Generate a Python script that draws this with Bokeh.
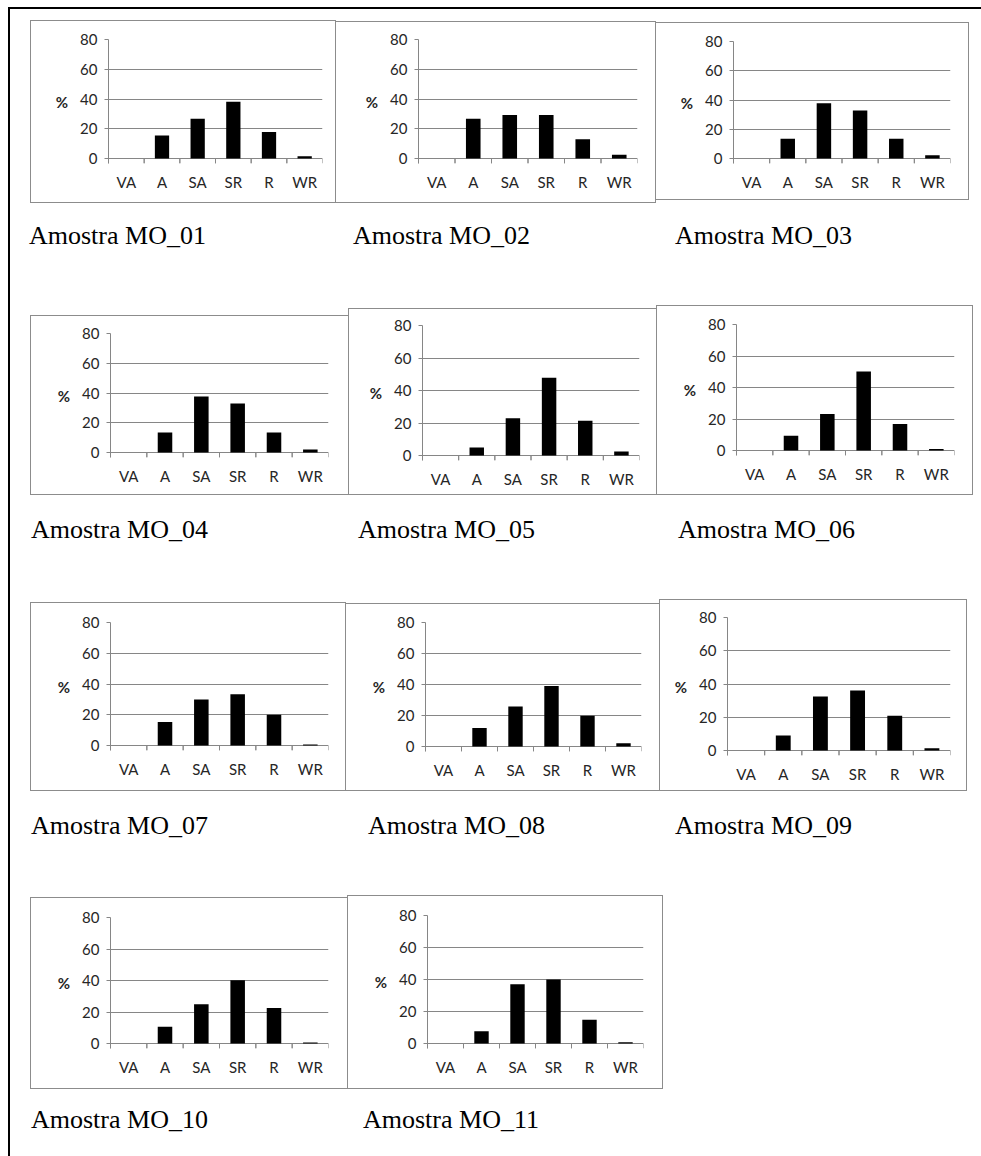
from bokeh.plotting import figure
from bokeh.models import (ColumnDataSource, Range1d, FactorRange,
                          CategoricalAxis, FixedTicker, Spacer, Div)
from bokeh.transform import dodge
from bokeh.layouts import row, column
from bokeh.embed import file_html
from bokeh.resources import INLINE

# ---------------- data ----------------
categories = ["VA", "A", "SA", "SR", "R", "WR"]
y_ticks = [0, 20, 40, 60, 80]
y_label = "%"
sample_names = ["Amostra MO_01", "Amostra MO_02", "Amostra MO_03", "Amostra MO_04",
                "Amostra MO_05", "Amostra MO_06", "Amostra MO_07", "Amostra MO_08",
                "Amostra MO_09", "Amostra MO_10", "Amostra MO_11"]
mo_01 = [0, 15.5, 26.7, 38.2, 17.8, 1.5]
mo_02 = [0, 26.7, 29.3, 29.3, 12.9, 2.5]
mo_03 = [0, 13.5, 37.8, 32.8, 13.5, 2.3]
mo_04 = [0, 13.4, 37.7, 33.0, 13.4, 2.0]
mo_05 = [0, 4.9, 23.0, 47.8, 21.4, 2.5]
mo_06 = [0, 9.4, 23.2, 50.2, 16.8, 1.0]
mo_07 = [0, 15.3, 29.9, 33.3, 20.0, 0.7]
mo_08 = [0, 12.0, 25.8, 39.1, 19.8, 2.1]
mo_09 = [0, 9.0, 32.5, 36.1, 20.9, 1.4]
mo_10 = [0, 10.7, 25.0, 40.2, 22.5, 0.6]
mo_11 = [0, 7.7, 37.1, 40.0, 14.8, 0.8]
series = [mo_01, mo_02, mo_03, mo_04, mo_05, mo_06, mo_07, mo_08, mo_09, mo_10, mo_11]

# ---------------- layout (page pixels) ----------------
# panel box [left, right) x [top, bottom) and plot frame (left, top(80), right, bottom(0))
panel_geom = [
    [(30, 20, 336, 203), (108, 39, 322, 158)],
    [(336, 21, 656, 203), (418, 39, 637, 158)],
    [(656, 22, 969, 200), (733, 41, 950, 158)],
    [(30, 315, 348, 495), (110, 333, 328, 452)],
    [(348, 308, 656, 495), (422, 325, 639, 455)],
    [(656, 305, 973, 495), (736, 324, 954, 450)],
    [(30, 602, 346, 791), (110, 622, 328, 745)],
    [(346, 603, 659, 791), (425, 622, 641, 746)],
    [(659, 599, 967, 791), (727, 617, 950, 750)],
    [(30, 897, 347, 1089), (110, 917, 328, 1043)],
    [(347, 895, 663, 1089), (427, 915, 643, 1043)],
]
rows_idx = [[0, 1, 2], [3, 4, 5], [6, 7, 8], [9, 10]]
caption_x = [[29, 353, 675], [31, 358, 678], [31, 368, 675], [31, 363]]
caption_cy = [236, 530, 826, 1120]

ORIGIN_X, ORIGIN_Y = 10, 9
GRID = "#868686"
BORDER = "#8c8c8c"
TXT = "#262626"
FONT = "Lato"
TICK_PX = 5


def make_panel(vals, geom):
    (bl, bt, br, bb), (fl, ft, fr, fb) = geom
    top_val = max(y_ticks)
    pad = top_val * TICK_PX / (fb - ft)        # room below 0 for the category tick marks
    src = ColumnDataSource(dict(cat=categories, val=vals))
    p = figure(x_range=FactorRange(*categories), y_range=Range1d(-pad, top_val),
               frame_width=fr - fl, frame_height=fb - ft + TICK_PX,
               min_border_left=fl - (bl + 1), min_border_right=(br - 1) - fr,
               min_border_top=ft - (bt + 1), min_border_bottom=(bb - 1) - fb - TICK_PX,
               x_axis_location=None, toolbar_location=None, output_backend="svg",
               background_fill_color="white", border_fill_color="white")
    p.outline_line_color = None
    p.xgrid.grid_line_color = None
    p.ygrid.grid_line_color = GRID
    p.ygrid.ticker = FixedTicker(ticks=y_ticks)

    ya = p.yaxis[0]
    ya.ticker = FixedTicker(ticks=y_ticks)
    ya.axis_line_color = GRID
    ya.major_tick_line_color = GRID
    ya.major_tick_out = 4
    ya.major_tick_in = 0
    ya.minor_tick_line_color = None
    ya.major_label_standoff = 7
    ya.major_label_text_font = FONT
    ya.major_label_text_font_size = "15px"
    ya.major_label_text_color = TXT
    ya.axis_label = y_label
    ya.axis_label_orientation = "horizontal"
    ya.axis_label_standoff = 9
    ya.axis_label_text_font = FONT
    ya.axis_label_text_font_size = "15px"
    ya.axis_label_text_font_style = "bold"
    ya.axis_label_text_color = TXT

    cat_axis = CategoricalAxis(axis_line_color=None, major_tick_line_color=None,
                               major_tick_out=0, major_tick_in=0,
                               major_label_standoff=9,
                               major_label_text_font=FONT,
                               major_label_text_font_size="15px",
                               major_label_text_color=TXT)
    p.add_layout(cat_axis, "below")

    # tick marks on the category boundaries, hanging below the zero line
    for side in (-0.5, 0.5):
        xb = dodge("cat", side, range=p.x_range)
        p.segment(x0=xb, x1=xb, y0=0, y1=-pad, source=src,
                  line_color=GRID, line_width=1)

    p.vbar(x="cat", top="val", width=0.4, source=src,
           fill_color="black", line_color=None)
    return p


def line_spacer(w, h, visible=True):
    if visible:
        return Spacer(width=w, height=h, styles={"background-color": BORDER})
    return Spacer(width=w, height=h)


def framed(fig, geom, show_left, show_right):
    bl, bt, br, bb = geom[0]
    w, h = br - bl, bb - bt
    mid = row([line_spacer(1, h - 2, show_left), fig, line_spacer(1, h - 2, show_right)],
              spacing=0)
    return column([line_spacer(w, 1), mid, line_spacer(w, 1)], spacing=0)


def caption(text, w):
    return Div(text=text, width=w, height=30, margin=0,
               styles={"font-family": "'Liberation Serif', 'Times New Roman', serif",
                       "font-size": "26px", "color": "black", "line-height": "30px",
                       "white-space": "nowrap"})


panels = [make_panel(v, g) for v, g in zip(series, panel_geom)]

content = []
cur_y = ORIGIN_Y
for r, idxs in enumerate(rows_idx):
    band_top = min(panel_geom[i][0][1] for i in idxs)
    band_bot = max(panel_geom[i][0][3] for i in idxs)
    if band_top - cur_y > 0:
        content.append(Spacer(height=band_top - cur_y, width=10))
    items = []
    cur_x = ORIGIN_X
    for k, i in enumerate(idxs):
        bl, bt, br, bb = panel_geom[i][0]
        h_i = bb - bt
        show_left, show_right = True, True
        if k > 0:
            pl, pt, pr, pb = panel_geom[idxs[k - 1]][0]
            if pr == bl and (pb - pt) >= h_i:
                show_left = False          # shared edge drawn by the taller neighbour
        if k + 1 < len(idxs):
            nl, nt, nr, nb = panel_geom[idxs[k + 1]][0]
            if nl == br and (nb - nt) > h_i:
                show_right = False
        if bl - cur_x > 0:
            items.append(Spacer(width=bl - cur_x, height=10))
        kids = []
        if bt - band_top > 0:
            kids.append(Spacer(height=bt - band_top, width=10))
        kids.append(framed(panels[i], panel_geom[i], show_left, show_right))
        items.append(column(kids, spacing=0))
        cur_x = br
    content.append(row(items, spacing=0))
    cur_y = band_bot

    cap_top = caption_cy[r] - 15
    content.append(Spacer(height=cap_top - cur_y, width=10))
    xs = caption_x[r]
    citems = [Spacer(width=xs[0] - ORIGIN_X, height=30)]
    for k, i in enumerate(idxs):
        w = (xs[k + 1] - xs[k]) if k + 1 < len(xs) else 300
        citems.append(caption(sample_names[i], w))
    content.append(row(citems, spacing=0))
    cur_y = cap_top + 30

content_col = column(content, spacing=0)

page = column([
    Spacer(height=7, width=10),
    row([Spacer(width=8, height=2),
         Spacer(width=973, height=2, styles={"background-color": "black"})], spacing=0),
    row([Spacer(width=8, height=10),
         Spacer(width=2, height=1147, styles={"background-color": "black"}),
         content_col], spacing=0),
], spacing=0)

open("out.html", "w").write(file_html(page, INLINE))
